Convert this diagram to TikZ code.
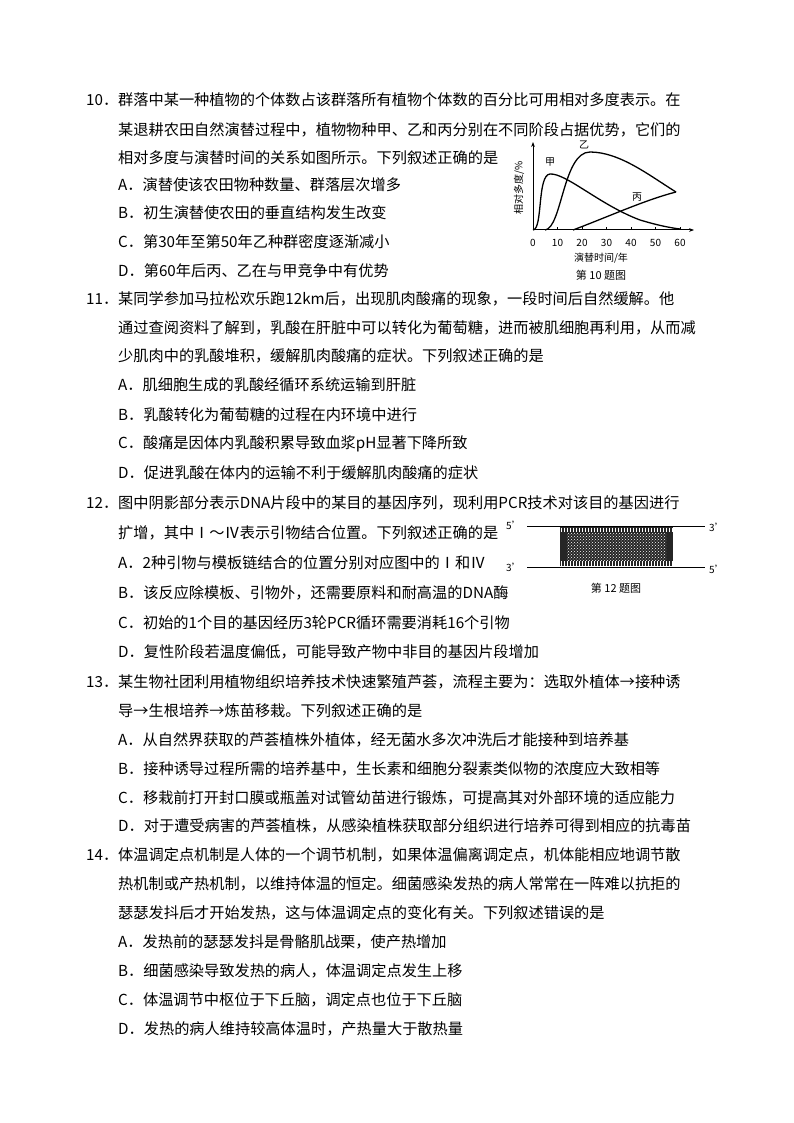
\documentclass[tikz,border=0pt]{standalone}
\usepackage{fontspec}
\setmainfont{Noto Sans CJK SC}
\usetikzlibrary{arrows.meta,patterns}
\begin{document}
\begin{tikzpicture}[x=1pt,y=-1pt,
  ln/.style={anchor=west,inner sep=0pt,font=\fontsize{15.2}{16}\selectfont},
  sm/.style={inner sep=0pt,font=\fontsize{10}{11}\selectfont},
  cur/.style={line width=1.3pt}]
\useasboundingbox[fill=white] (0,0) rectangle (794,1123);
% Q10
\node[ln] (n10) at (86,100) {10．};
\node[ln] (t10a) at (118,100) {群落中某一种植物的个体数占该群落所有植物个体数的百分比可用相对多度表示。在};
\node[ln] (t10b) at (118,130) {某退耕农田自然演替过程中，植物物种甲、乙和丙分别在不同阶段占据优势，它们的};
\node[ln] (t10c) at (118,158) {相对多度与演替时间的关系如图所示。下列叙述正确的是};
\node[ln] (t10A) at (118,185) {A．演替使该农田物种数量、群落层次增多};
\node[ln] (t10B) at (118,213) {B．初生演替使农田的垂直结构发生改变};
\node[ln] (t10C) at (118,242) {C．第30年至第50年乙种群密度逐渐减小};
\node[ln] (t10D) at (118,271) {D．第60年后丙、乙在与甲竞争中有优势};
% graph
\coordinate (o) at (533,230);
\coordinate (xe) at (694,230);
\coordinate (ye) at (533,142);
\draw[line width=1pt,-{Stealth[length=5pt]}] (o) -- (xe);
\draw[line width=1pt,-{Stealth[length=5pt]}] (o) -- (ye);
\foreach \i/\v in {0/0,1/10,2/20,3/30,4/40,5/50,6/60}{
  \draw[line width=0.8pt] (533+24.5*\i,230) -- (533+24.5*\i,227);
  \node[sm] (tk\i) at (533+24.5*\i,243) {\v};}
\node[sm] (xl) at (601,258) {演替时间/年};
\node[sm,font=\fontsize{11}{12}\selectfont] (cap10) at (601,275) {第 10 题图};
\node[sm,rotate=90] (yl) at (519,188) {相对多度/\%};
\draw[cur] (o) .. controls (543,229) and (537,175) .. (550,174) .. controls (566,173) and (600,205) .. (640,220) .. controls (660,226) and (672,228) .. (680,229);
\draw[cur] (545,230) .. controls (562,228) and (563,152) .. (590,152) .. controls (620,152) and (650,176) .. (676,192);
\draw[cur] (573,230) .. controls (610,216) and (645,200) .. (676,192);
\node[sm] (jia) at (550,162) {甲};
\node[sm] (yi) at (584,145) {乙};
\node[sm] (bing) at (637,197) {丙};
% Q11
\node[ln] (n11) at (86,299) {11．};
\node[ln] (t11a) at (118,299) {某同学参加马拉松欢乐跑12km后，出现肌肉酸痛的现象，一段时间后自然缓解。他};
\node[ln] (t11b) at (118,328) {通过查阅资料了解到，乳酸在肝脏中可以转化为葡萄糖，进而被肌细胞再利用，从而减};
\node[ln] (t11c) at (118,356) {少肌肉中的乳酸堆积，缓解肌肉酸痛的症状。下列叙述正确的是};
\node[ln] (t11A) at (118,385) {A．肌细胞生成的乳酸经循环系统运输到肝脏};
\node[ln] (t11B) at (118,415) {B．乳酸转化为葡萄糖的过程在内环境中进行};
\node[ln] (t11C) at (118,444) {C．酸痛是因体内乳酸积累导致血浆pH显著下降所致};
\node[ln] (t11D) at (118,473) {D．促进乳酸在体内的运输不利于缓解肌肉酸痛的症状};
% Q12
\node[ln] (n12) at (86,503) {12．};
\node[ln] (t12a) at (118,503) {图中阴影部分表示DNA片段中的某目的基因序列，现利用PCR技术对该目的基因进行};
\node[ln] (t12b) at (118,533) {扩增，其中Ⅰ～Ⅳ表示引物结合位置。下列叙述正确的是};
\node[ln] (t12A) at (118,563) {A．2种引物与模板链结合的位置分别对应图中的Ⅰ和Ⅳ};
\node[ln] (t12B) at (118,593) {B．该反应除模板、引物外，还需要原料和耐高温的DNA酶};
\node[ln] (t12C) at (118,623) {C．初始的1个目的基因经历3轮PCR循环需要消耗16个引物};
\node[ln] (t12D) at (118,652) {D．复性阶段若温度偏低，可能导致产物中非目的基因片段增加};
% DNA figure
\coordinate (l1) at (527,526); \coordinate (r1) at (705,526);
\coordinate (l2) at (527,567); \coordinate (r2) at (705,567);
\draw[line width=1pt] (l1) -- (r1);
\draw[line width=1pt] (l2) -- (r2);
\fill[black!85] (560,527) rectangle (673,566);
\fill[pattern=crosshatch dots, pattern color=white] (567,533) rectangle (666,560);
\foreach \k in {0,...,37}{
  \draw[white,line width=0.6pt] (561.5+3*\k,527.5) -- (561.5+3*\k,532);
  \draw[white,line width=0.6pt] (561.5+3*\k,561) -- (561.5+3*\k,565.5);}
\node[sm] (p5a) at (514,525) {5'};
\node[sm] (p3a) at (717,527) {3'};
\node[sm] (p3b) at (514,567) {3'};
\node[sm] (p5b) at (717,569) {5'};
\node[sm,font=\fontsize{11}{12}\selectfont] (cap12) at (616,588) {第 12 题图};
% Q13
\node[ln] (n13) at (86,682) {13．};
\node[ln] (t13a) at (118,682) {某生物社团利用植物组织培养技术快速繁殖芦荟，流程主要为：选取外植体→接种诱};
\node[ln] (t13b) at (118,711) {导→生根培养→炼苗移栽。下列叙述正确的是};
\node[ln] (t13A) at (118,740) {A．从自然界获取的芦荟植株外植体，经无菌水多次冲洗后才能接种到培养基};
\node[ln] (t13B) at (118,769) {B．接种诱导过程所需的培养基中，生长素和细胞分裂素类似物的浓度应大致相等};
\node[ln] (t13C) at (118,798) {C．移栽前打开封口膜或瓶盖对试管幼苗进行锻炼，可提高其对外部环境的适应能力};
\node[ln] (t13D) at (118,826) {D．对于遭受病害的芦荟植株，从感染植株获取部分组织进行培养可得到相应的抗毒苗};
% Q14
\node[ln] (n14) at (86,855) {14．};
\node[ln] (t14a) at (118,855) {体温调定点机制是人体的一个调节机制，如果体温偏离调定点，机体能相应地调节散};
\node[ln] (t14b) at (118,884) {热机制或产热机制，以维持体温的恒定。细菌感染发热的病人常常在一阵难以抗拒的};
\node[ln] (t14c) at (118,913) {瑟瑟发抖后才开始发热，这与体温调定点的变化有关。下列叙述错误的是};
\node[ln] (t14A) at (118,942) {A．发热前的瑟瑟发抖是骨骼肌战栗，使产热增加};
\node[ln] (t14B) at (118,971) {B．细菌感染导致发热的病人，体温调定点发生上移};
\node[ln] (t14C) at (118,1000) {C．体温调节中枢位于下丘脑，调定点也位于下丘脑};
\node[ln] (t14D) at (118,1029) {D．发热的病人维持较高体温时，产热量大于散热量};
\end{tikzpicture}
\end{document}
